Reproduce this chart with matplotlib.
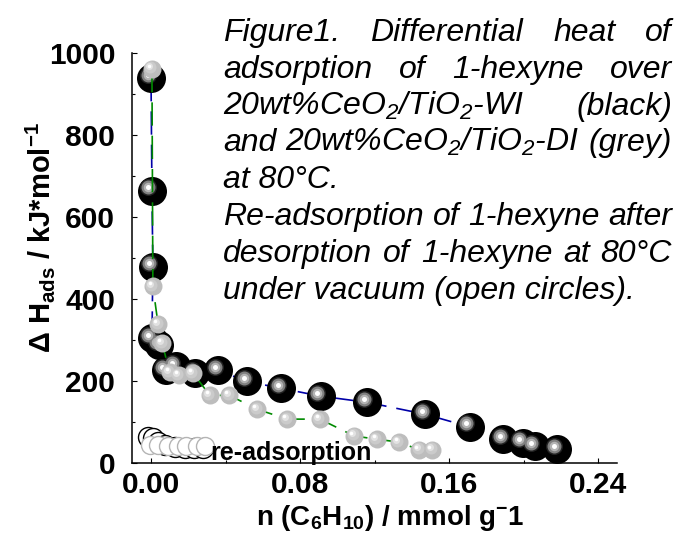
import numpy as np
import matplotlib
matplotlib.use("Agg")
import matplotlib.pyplot as plt
from matplotlib.transforms import offset_copy
from matplotlib.ticker import MultipleLocator, FormatStrFormatter

# --- Fonts (Arial look-alike) ---
plt.rcParams['font.family'] = 'Liberation Sans'
plt.rcParams['mathtext.fontset'] = 'custom'
plt.rcParams['mathtext.rm'] = 'Liberation Sans'
plt.rcParams['mathtext.it'] = 'Liberation Sans:italic'
plt.rcParams['mathtext.bf'] = 'Liberation Sans:bold'
plt.rcParams['mathtext.default'] = 'regular'

# --- Data ---
# 20wt%CeO2/TiO2-WI (black spheres)
wi_x = [0.000, 0.0005, 0.001, 0.0005, 0.0043, 0.008, 0.0134, 0.0236, 0.036,
        0.0515, 0.070, 0.091, 0.116, 0.147, 0.171, 0.189, 0.1995, 0.206, 0.218]
wi_y = [939, 664, 479, 304, 287, 226, 236, 219, 226,
        199, 182, 163, 148, 119, 88, 58, 49, 41, 34]

# 20wt%CeO2/TiO2-DI (grey spheres)
di_x = [0.0005, 0.001, 0.0038, 0.006, 0.010, 0.015, 0.0225, 0.0316, 0.042,
        0.057, 0.073, 0.0906, 0.109, 0.121, 0.133, 0.144, 0.151]
di_y = [961, 431, 338, 292, 221, 214, 219, 165, 165,
        131, 107, 107, 66, 58, 51, 32, 32]

# re-adsorption (open circles)
re_wi_x = [-0.0015, 0.001, 0.004, 0.0075, 0.013, 0.018, 0.023, 0.028]
re_wi_y = [63, 61, 51, 44, 39, 36, 36, 36]
re_di_x = [-0.0005, 0.004, 0.009, 0.0145, 0.019, 0.0247, 0.029]
re_di_y = [44, 43, 42, 41, 41, 41, 41]

x_ticks = [0.00, 0.08, 0.16, 0.24]
y_ticks = [0, 200, 400, 600, 800, 1000]

caption = [
    (["Figure1.", "Differential", "heat", "of"], True),
    (["adsorption", "of", "1-hexyne", "over"], True),
    (["20wt%CeO$_2$/TiO$_2$-WI", "(black)"], True),
    (["and", "20wt%CeO$_2$/TiO$_2$-DI", "(grey)"], True),
    (["at 80°C."], False),
    (["Re-adsorption", "of", "1-hexyne", "after"], True),
    (["desorption", "of", "1-hexyne", "at", "80°C"], True),
    (["under vacuum (open circles)."], False),
]

W, H = 680, 543
PX = 0.72  # points per pixel at dpi 100

fig = plt.figure(figsize=(6.8, 5.43), dpi=100)
ax = fig.add_axes([132 / W, 1 - 463 / H, 485 / W, 410 / H])


def shifted(dx_px, dy_px):
    return offset_copy(ax.transData, fig=fig, x=dx_px * PX, y=dy_px * PX, units='points')


def spheres(x, y, layers, z):
    # layers: (diameter px, colour, dx px, dy px)
    for i, (d, c, dx, dy) in enumerate(layers):
        ax.plot(x, y, linestyle='none', marker='o', markersize=d * PX,
                markerfacecolor=c, markeredgewidth=0, transform=shifted(dx, dy),
                zorder=z + i * 0.01, clip_on=False)


# --- Lines ---
ax.plot(wi_x, wi_y, color='#0000a8', lw=1.2, dashes=(14, 6), zorder=2)
ax.plot(di_x, di_y, color='#008a00', lw=1.2, dashes=(14, 6), zorder=5)

# --- Spheres ---
spheres(wi_x, wi_y, [(29, 'black', 0, 0), (17, '#222222', -3.5, 3.5),
                     (14, '#808080', -3.5, 3.5), (9.5, '#b4b4b4', -3.5, 3.5),
                     (5, 'white', -3.5, 3.5)], 3)
spheres(di_x, di_y, [(18, '#bdbdbd', 0, 0), (12, '#cbcbcb', -1.5, 1.5),
                     (7, '#e2e2e2', -2.5, 2.5), (3.5, 'white', -3, 3)], 6)

# --- Open circles ---
ax.plot(re_wi_x, re_wi_y, linestyle='none', marker='o', markersize=20 * PX,
        markerfacecolor='white', markeredgecolor='black', markeredgewidth=1.0,
        zorder=8, clip_on=False)
ax.plot(re_di_x, re_di_y, linestyle='none', marker='o', markersize=18 * PX,
        markerfacecolor='white', markeredgecolor='#b4b4b4', markeredgewidth=1.0,
        zorder=9, clip_on=False)
ax.text(0.0316, 7, "re-adsorption", fontsize=18, fontweight='bold',
        va='baseline', ha='left', zorder=10)

# --- Axes styling ---
ax.set_xlim(-0.0102, 0.25)
ax.set_ylim(0, 1000)
for s in ['top', 'right']:
    ax.spines[s].set_visible(False)
for s in ['left', 'bottom']:
    ax.spines[s].set_linewidth(1.1)
ax.set_xticks(x_ticks)
ax.set_yticks(y_ticks)
ax.xaxis.set_major_formatter(FormatStrFormatter('%.2f'))
ax.xaxis.set_minor_locator(MultipleLocator(0.04))
ax.yaxis.set_minor_locator(MultipleLocator(100))
ax.tick_params(which='both', direction='in', width=0.8)
ax.tick_params(which='major', length=3.5, labelsize=21.5)
ax.tick_params(which='minor', length=2.5)
ax.tick_params(axis='x', pad=6)
ax.tick_params(axis='y', pad=12)
for lab in ax.get_xticklabels() + ax.get_yticklabels():
    lab.set_fontweight('bold')

# --- Axis titles ---
fig.text(40 / W, 1 - 238 / H, r"$\Delta$ H$_{ads}$ / kJ*mol$^{-1}$", rotation=90,
         fontsize=21, fontweight='bold', ha='center', va='center')
fig.text(390 / W, 1 - 518 / H, r"n (C$_6$H$_{10}$) / mmol g$^{-}$1",
         fontsize=20, fontweight='bold', ha='center', va='center')

# --- Justified caption ---
renderer = fig.canvas.get_renderer()
x0, x1 = 223, 672
for i, (words, justify) in enumerate(caption):
    yb = 41 + 36.8 * i
    texts = [fig.text(x0 / W, 1 - yb / H, w, fontsize=23, fontstyle='italic',
                      ha='left', va='baseline') for w in words]
    if justify and len(texts) > 1:
        widths = [t.get_window_extent(renderer).width for t in texts]
        gap = (x1 - x0 - sum(widths)) / (len(texts) - 1)
        xp = x0
        for t, w in zip(texts, widths):
            t.set_x(xp / W)
            xp += w + gap

fig.savefig("out.png", dpi=100)
